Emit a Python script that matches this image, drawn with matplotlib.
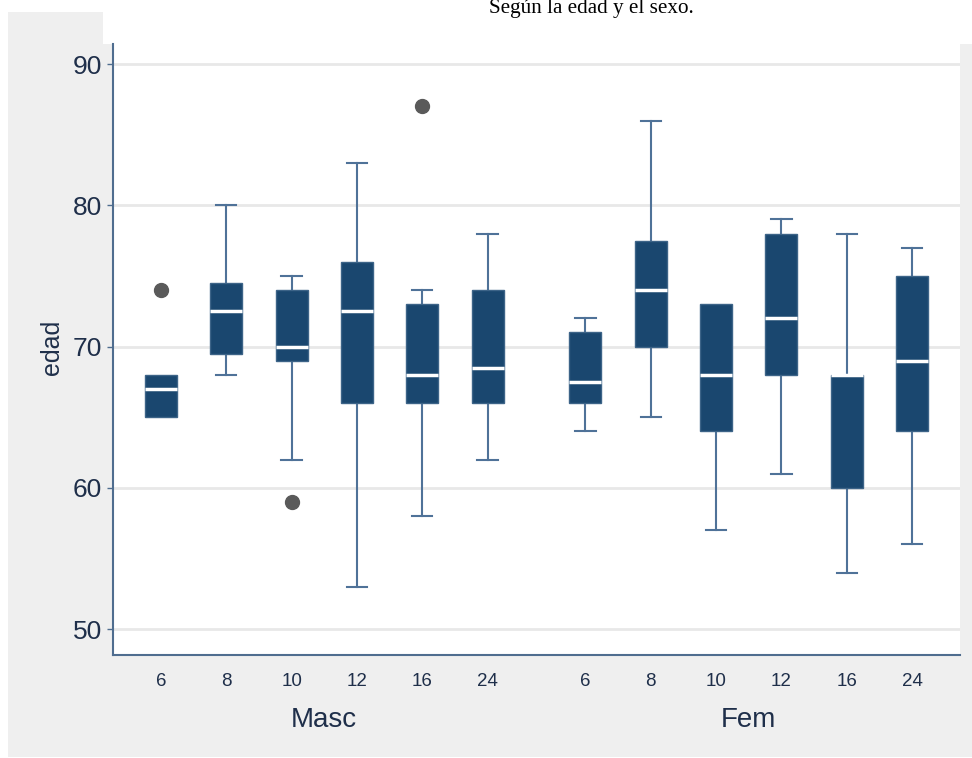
import matplotlib
matplotlib.use("Agg")
import matplotlib.pyplot as plt
from matplotlib.patches import Rectangle

# Age-group labels within each sex, and the two sex groups
ages = ["6", "8", "10", "12", "16", "24"]
sexes = ["Masc", "Fem"]

# Box-plot summaries of "edad" (Masc groups first, then Fem)
q1 = [65, 69.5, 69, 66, 66, 66, 66, 70, 64, 68, 60, 64]
med = [67, 72.5, 70, 72.5, 68, 68.5, 67.5, 74, 68, 72, 68, 69]
q3 = [68, 74.5, 74, 76, 73, 74, 71, 77.5, 73, 78, 68, 75]
whislo = [65, 68, 62, 53, 58, 62, 64, 65, 57, 61, 54, 56]
whishi = [68, 80, 75, 83, 74, 78, 72, 86, 73, 79, 78, 77]
outliers = [[74], [], [59], [], [87], [], [], [], [], [], [], []]

W, H = 972, 758
fig = plt.figure(figsize=(W / 100, H / 100), dpi=100, facecolor="white")

# Graph-region shading and the white title strip
fig.patches.append(Rectangle((8 / W, 1 - 757 / H), (W - 8) / W, (757 - 12) / H,
                             transform=fig.transFigure, facecolor="#efefef",
                             edgecolor="none", zorder=-20))
fig.patches.append(Rectangle((103 / W, 1 - 44 / H), (W - 103) / W, 44 / H,
                             transform=fig.transFigure, facecolor="white",
                             edgecolor="none", zorder=-19))

ax = fig.add_axes([113 / W, 1 - 655 / H, (960 - 113) / W, (655 - 44) / H])
ax.set_facecolor("white")

# Positions: 6 boxes per sex, with a wider gap between the sexes
positions = [i for i in range(6)] + [6.5 + i for i in range(6)]

stats = []
for i in range(len(q1)):
    stats.append(dict(q1=q1[i], med=med[i], q3=q3[i], whislo=whislo[i],
                      whishi=whishi[i], fliers=outliers[i]))

box_col = "#1a476f"
line_col = "#4f7298"
parts = ax.bxp(stats, positions=positions, widths=0.49, patch_artist=True,
               showfliers=True,
               boxprops=dict(facecolor=box_col, edgecolor="#3d6488",
                             linewidth=1.0, zorder=3),
               medianprops=dict(color="white", linewidth=2.5, zorder=4),
               whiskerprops=dict(color=line_col, linewidth=1.5, zorder=2),
               capprops=dict(color=line_col, linewidth=1.5, zorder=2),
               capwidths=0.31,
               flierprops=dict(marker="o", markerfacecolor="#5a5a5a",
                               markeredgecolor="#5a5a5a", markersize=10,
                               zorder=3))

# A whisker that ends at the box edge gets no cap
for i in range(len(q1)):
    lo_cap, hi_cap = parts["caps"][2 * i], parts["caps"][2 * i + 1]
    if whislo[i] >= q1[i]:
        lo_cap.set_visible(False)
    if whishi[i] <= q3[i]:
        hi_cap.set_visible(False)

ax.set_xlim(-0.735, 12.235)
ax.set_ylim(48.16, 91.42)
ax.set_yticks([50, 60, 70, 80, 90])
ax.set_xticks(positions)
ax.set_xticklabels(ages * 2)
ax.yaxis.grid(True, color="#e8e8e8", linewidth=2, zorder=0)
ax.set_axisbelow(True)

for side in ["top", "right"]:
    ax.spines[side].set_visible(False)
for side in ["left", "bottom"]:
    ax.spines[side].set_color("#4f6d8f")
    ax.spines[side].set_linewidth(1.5)

ax.tick_params(axis="y", length=4, width=1, color="#4f6d8f", pad=4,
               labelsize=19, labelcolor="#1f2f4a")
ax.tick_params(axis="x", length=0, pad=13, labelsize=13.5, labelcolor="#1f2f4a")
for lab in ax.get_xticklabels() + ax.get_yticklabels():
    lab.set_fontfamily("Liberation Sans")

# Group labels under each set of boxes
for g, name in enumerate(sexes):
    cx = sum(positions[g * 6:(g + 1) * 6]) / 6
    ax.text(cx, -0.107, name, transform=ax.get_xaxis_transform(),
            ha="center", va="center", fontsize=20, color="#1f2f4a",
            family="Liberation Sans")

fig.text(52 / W, 1 - 347 / H, "edad", rotation=90, ha="center", va="center",
         fontsize=18, color="#1f2f4a", family="Liberation Sans")

fig.text(591 / W, 1 - 13 / H, "Según la edad y el sexo.", ha="center",
         va="baseline", fontsize=15.2, color="black", family="Liberation Serif")

fig.savefig("out.png", dpi=100, facecolor="white")
